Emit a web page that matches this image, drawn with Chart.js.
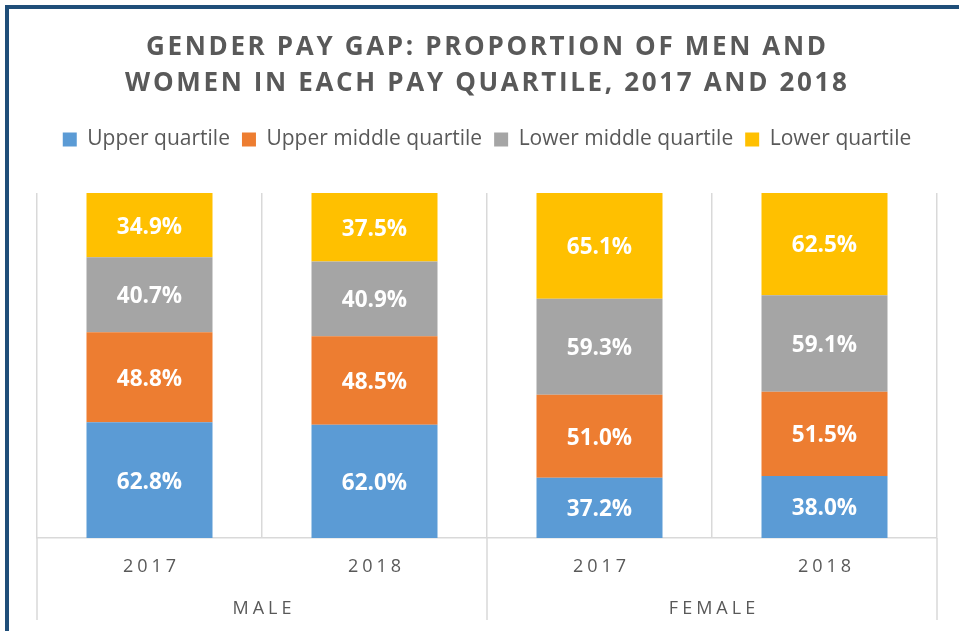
<!DOCTYPE html>
<html><head><meta charset="utf-8">
<script src="https://cdn.jsdelivr.net/npm/chart.js@4"></script>
<style>
html,body{margin:0;padding:0;background:#fff;overflow:hidden}
#wrap{position:relative;width:959px;height:631px;overflow:hidden}
#frame{position:absolute;left:5px;top:5px;width:1000px;height:700px;border-left:4px solid #1F4E79;border-top:4px solid #1F4E79;box-sizing:border-box;pointer-events:none}
canvas{position:absolute;left:0;top:0}
</style></head>
<body><div id="wrap"><canvas id="c" width="959" height="631"></canvas><div id="frame"></div></div>
<script>
const titleLines = ['GENDER PAY GAP: PROPORTION OF MEN AND', 'WOMEN IN EACH PAY QUARTILE, 2017 AND 2018'];
const categories = ['2017', '2018', '2017', '2018'];
const groups = ['MALE', 'FEMALE'];
const seriesNames = ['Upper quartile', 'Upper middle quartile', 'Lower middle quartile', 'Lower quartile'];
const upperQuartile = [62.8, 62.0, 37.2, 38.0];
const upperMiddleQuartile = [48.8, 48.5, 51.0, 51.5];
const lowerMiddleQuartile = [40.7, 40.9, 59.3, 59.1];
const lowerQuartile = [34.9, 37.5, 65.1, 62.5];
const seriesColors = ['#5B9BD5', '#ED7D31', '#A5A5A5', '#FFC000'];

const rawSeries = [upperQuartile, upperMiddleQuartile, lowerMiddleQuartile, lowerQuartile];
// 100% stacked: each bar is normalised to its own total (as the spreadsheet did)
const totals = categories.map((_, i) => rawSeries.reduce((s, arr) => s + arr[i], 0));
const datasets = rawSeries.map((arr, k) => ({
  label: seriesNames[k],
  data: arr.map((v, i) => v / totals[i] * 100),
  backgroundColor: seriesColors[k],
  borderWidth: 0,
  categoryPercentage: 1.0,
  barPercentage: 0.56
}));

const TEXT = '#595959';
const GRID = '#D9D9D9';

const legendGap = {
  id: 'legendGap',
  beforeInit(chart) {
    const orig = chart.legend.fit;
    chart.legend.fit = function () { orig.bind(chart.legend)(); this.height += 33; };
  }
};

const decor = {
  id: 'decor',
  afterDatasetsDraw(chart) {
    const ctx = chart.ctx;
    ctx.save();
    ctx.font = 'bold 22.5px "Open Sans"';
    ctx.fillStyle = '#FFFFFF';
    ctx.textAlign = 'center';
    ctx.textBaseline = 'middle';
    chart.data.datasets.forEach((ds, di) => {
      const meta = chart.getDatasetMeta(di);
      meta.data.forEach((bar, i) => {
        const p = bar.getProps(['x', 'y', 'base'], true);
        ctx.fillText(rawSeries[di][i].toFixed(1) + '%', p.x, (p.y + p.base) / 2 + 2);
      });
    });
    ctx.restore();
  },
  afterDraw(chart) {
    const ctx = chart.ctx;
    const area = chart.chartArea;
    const xs = chart.scales.x;
    ctx.save();
    // title
    ctx.fillStyle = TEXT;
    ctx.textAlign = 'center';
    ctx.textBaseline = 'alphabetic';
    ctx.font = 'bold 26px "Open Sans"';
    ctx.letterSpacing = '0px';
    const w0 = ctx.measureText(titleLines[0]).width;
    const sp = Math.max(0, (680 - w0) / (titleLines[0].length - 1));
    ctx.letterSpacing = sp + 'px';
    ctx.fillText(titleLines[0], 486 + sp / 2, 55);
    ctx.fillText(titleLines[1], 486 + sp / 2, 91);

    // category labels
    ctx.font = '18px "Open Sans"';
    ctx.letterSpacing = '4px';
    categories.forEach((c, i) => {
      ctx.fillText(c, xs.getPixelForValue(i) + 2, area.bottom + 34);
    });
    // group labels
    groups.forEach((g, gi) => {
      const cx = (xs.getPixelForValue(gi * 2) + xs.getPixelForValue(gi * 2 + 1)) / 2;
      ctx.fillText(g, cx + 2, area.bottom + 76);
    });
    // group separators below the axis
    ctx.letterSpacing = '0px';
    ctx.strokeStyle = GRID;
    ctx.lineWidth = 1.5;
    const half = (xs.getPixelForValue(1) - xs.getPixelForValue(0)) / 2;
    const seps = [xs.getPixelForValue(0) - half, xs.getPixelForValue(1) + half, xs.getPixelForValue(3) + half];
    seps.forEach(x => {
      ctx.beginPath();
      ctx.moveTo(x, area.bottom);
      ctx.lineTo(x, area.bottom + 82);
      ctx.stroke();
    });
    ctx.restore();
  }
};

new Chart(document.getElementById('c'), {
  type: 'bar',
  data: { labels: categories, datasets },
  options: {
    responsive: false,
    animation: false,
    layout: { padding: { top: 117, left: 37, right: 22, bottom: 93 } },
    plugins: {
      title: { display: false },
      tooltip: { enabled: false },
      legend: {
        display: true,
        position: 'top',
        labels: {
          color: TEXT,
          font: { family: '"Open Sans"', size: 21 },
          boxWidth: 14,
          boxHeight: 14,
          padding: 12
        }
      }
    },
    scales: {
      x: {
        stacked: true,
        grid: { display: true, offset: true, color: GRID, lineWidth: 1.5, drawTicks: false },
        border: { display: true, color: GRID, width: 1.5 },
        ticks: { display: false }
      },
      y: {
        stacked: true,
        min: 0,
        max: 100,
        display: false
      }
    }
  },
  plugins: [legendGap, decor]
});
</script>
</body></html>
